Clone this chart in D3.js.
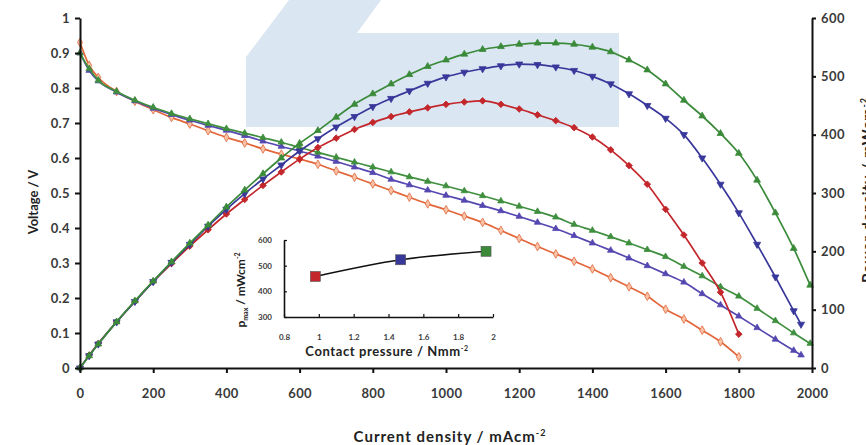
<!DOCTYPE html>
<html><head><meta charset="utf-8">
<script src="https://cdn.jsdelivr.net/npm/d3@7"></script>
<style>
html,body{margin:0;padding:0;background:#fff;}
svg{display:block;font-family:Lato,"Open Sans",sans-serif;}
</style></head>
<body><svg id="c" width="866" height="445"></svg>
<script>
// ---- data ----
const currentRed   = [0,25,50,100,150,200,250,300,350,400,450,500,550,600,650,700,750,800,850,900,950,1000,1050,1100,1150,1200,1250,1300,1350,1400,1450,1500,1550,1600,1650,1700,1750,1800];
const currentBlue  = [0,25,50,100,150,200,250,300,350,400,450,500,550,600,650,700,750,800,850,900,950,1000,1050,1100,1150,1200,1250,1300,1350,1400,1450,1500,1550,1600,1650,1700,1750,1800,1850,1900,1950,1970];
const currentGreen = [0,25,50,100,150,200,250,300,350,400,450,500,550,600,650,700,750,800,850,900,950,1000,1050,1100,1150,1200,1250,1300,1350,1400,1450,1500,1550,1600,1650,1700,1750,1800,1850,1900,1950,1995];

const voltageRed   = [0.93,0.865,0.83,0.79,0.762,0.738,0.716,0.697,0.678,0.659,0.643,0.626,0.611,0.597,0.582,0.563,0.545,0.526,0.507,0.488,0.469,0.452,0.434,0.416,0.393,0.37,0.347,0.326,0.305,0.283,0.258,0.232,0.205,0.168,0.14,0.108,0.075,0.032];
const voltageBlue  = [0.90,0.85,0.82,0.788,0.763,0.742,0.724,0.708,0.693,0.679,0.664,0.648,0.633,0.620,0.605,0.59,0.574,0.558,0.539,0.523,0.508,0.493,0.479,0.464,0.449,0.433,0.416,0.398,0.378,0.357,0.336,0.314,0.292,0.269,0.245,0.212,0.18,0.148,0.115,0.082,0.05,0.037];
const voltageGreen = [0.90,0.855,0.822,0.79,0.765,0.745,0.727,0.712,0.698,0.684,0.671,0.658,0.645,0.63,0.616,0.602,0.588,0.574,0.56,0.546,0.533,0.52,0.506,0.492,0.477,0.462,0.447,0.431,0.41,0.393,0.375,0.357,0.338,0.318,0.29,0.263,0.232,0.205,0.17,0.135,0.10,0.07];

const powerRed   = [0,22,42,79,114,148,179,209,237,264,289,313,336,358,378,394,409,421,431,439,446,452,456,458,452,444,434,424,412,396,374,347,315,272,228,180,130,58];
const powerBlue  = [0,21,41,79,114,148,181,212,243,272,299,324,348,372,393,413,431,448,462,475,488,499,507,513,518,521,520,516,510,500,487,470,450,428,400,360,315,266,212,156,98,75];
const powerGreen = [0,21,41,79,115,149,182,214,245,276,305,333,360,385,407,430,452,470,487,503,517,528,538,546,551,555,557,557,555,550,542,528,511,487,459,432,402,368,322,266,205,142];

// inset: peak power vs contact pressure
const insetPressure = [0.98,1.47,1.96];
const insetPmax     = [458,523,556];

const xTicks  = [0,200,400,600,800,1000,1200,1400,1600,1800,2000];
const yTicks  = [0,0.1,0.2,0.3,0.4,0.5,0.6,0.7,0.8,0.9,1];
const y2Ticks = [0,100,200,300,400,500,600];
const insetXTicks = [0.8,1,1.2,1.4,1.6,1.8,2];
const insetYTicks = [300,400,500,600];

// ---- styles ----
const C = {
  orange:"#e2663a", orangeFill:"#f7c2a6",
  blueV:"#5548b0", greenV:"#3f8f3f",
  red:"#c3262b", blueP:"#38379a", greenP:"#3a8a3a",
  wm:"#dae6f2"
};

const svg = d3.select("#c");
const L=80, R=812, T=18, B=368;
const x  = d3.scaleLinear().domain([0,2000]).range([L,R]);
const y  = d3.scaleLinear().domain([0,1]).range([B,T]);
const y2 = d3.scaleLinear().domain([0,600]).range([B,T]);

// watermark shape (decoration)
svg.append("path").attr("d","M246,57 L289,0 L381,0 L357,33 L619,33 L619,127 L246,127 Z").attr("fill",C.wm);

function series(xs, ys, ysc, color, fill, sym, size, rot){
  const pts = xs.map((d,i)=>[d, ys[i]]);
  const g = svg.append("g");
  g.append("path").datum(pts)
    .attr("fill","none").attr("stroke",color).attr("stroke-width",1.7)
    .attr("d", d3.line().x(d=>x(d[0])).y(d=>ysc(d[1])).curve(d3.curveMonotoneX));
  g.selectAll("path.m").data(pts).join("path").attr("class","m")
    .attr("transform",d=>`translate(${x(d[0])},${ysc(d[1])}) rotate(${rot||0})`)
    .attr("d", d3.symbol().type(sym).size(size))
    .attr("fill",fill).attr("stroke",color).attr("stroke-width",0.8);
}

// voltage curves
series(currentRed,   voltageRed,   y, C.orange, C.orangeFill, d3.symbolDiamond, 22);
series(currentBlue,  voltageBlue,  y, C.blueV,  C.blueV,  d3.symbolTriangle, 18);
series(currentGreen, voltageGreen, y, C.greenV, C.greenV, d3.symbolTriangle, 18);
// power curves
series(currentRed,   powerRed,   y2, C.red,    C.red,    d3.symbolSquare, 22, 45);
series(currentBlue,  powerBlue,  y2, C.blueP,  C.blueP,  d3.symbolTriangle, 22, 180);
series(currentGreen, powerGreen, y2, C.greenP, C.greenP, d3.symbolTriangle, 20);

// axes
function styleAxis(g){
  g.select(".domain").attr("stroke","#111").attr("stroke-width",2);
  g.selectAll(".tick line").attr("stroke","#111").attr("stroke-width",2);
  g.selectAll("text").attr("fill","#3a3a3a").style("font","bold 13px Lato").style("letter-spacing","0.4px");
}
svg.append("g").attr("transform",`translate(0,${B})`)
  .call(d3.axisBottom(x).tickValues(xTicks).tickFormat(d3.format("d")).tickSize(5).tickSizeOuter(0).tickPadding(16))
  .call(styleAxis);
svg.append("g").attr("transform",`translate(${L},0)`)
  .call(d3.axisLeft(y).tickValues(yTicks).tickFormat(d=>d===0?"0":d===1?"1":d3.format(".1f")(d)).tickSize(5).tickSizeOuter(0).tickPadding(5))
  .call(styleAxis);
svg.append("g").attr("transform",`translate(${R},0)`)
  .call(d3.axisRight(y2).tickValues(y2Ticks).tickFormat(d3.format("d")).tickSize(4).tickSizeOuter(0).tickPadding(5))
  .call(styleAxis);

// titles
svg.append("text").attr("x",450).attr("y",442).attr("text-anchor","middle")
  .style("font","bold 15px Lato").style("letter-spacing","1px").attr("fill","#222")
  .html('Current density / mAcm<tspan dy="-6" font-size="9">-2</tspan>');
svg.append("text").attr("transform","translate(38,202) rotate(-90)").attr("text-anchor","middle")
  .style("font","bold 13px Lato").attr("fill","#222").text("Voltage / V");
svg.append("text").attr("transform","translate(873,190) rotate(-90)").attr("text-anchor","middle")
  .style("font","bold 15px Lato").style("letter-spacing","1px").attr("fill","#222")
  .html('Power density / mWcm<tspan dy="-6" font-size="9">-2</tspan>');

// inset
const ix = d3.scaleLinear().domain([0.8,2]).range([284,493]);
const iy = d3.scaleLinear().domain([300,600]).range([317,240]);
const ig = svg.append("g");
function styleInset(g){
  g.select(".domain").attr("stroke","#111").attr("stroke-width",1.6);
  g.selectAll(".tick line").attr("stroke","#111").attr("stroke-width",1.2);
  g.selectAll("text").attr("fill","#3a3a3a").style("font","bold 8px Lato");
}
ig.append("g").attr("transform","translate(0,317)")
  .call(d3.axisBottom(ix).tickValues(insetXTicks).tickFormat(d=>d3.format("")(d)).tickSize(-3).tickSizeOuter(0).tickPadding(17))
  .call(styleInset);
ig.append("g").attr("transform","translate(284,0)")
  .call(d3.axisLeft(iy).tickValues(insetYTicks).tickSize(-3).tickSizeOuter(0).tickPadding(12))
  .call(styleInset);
ig.append("path").datum(insetPressure.map((d,i)=>[d,insetPmax[i]]))
  .attr("fill","none").attr("stroke","#111").attr("stroke-width",1.6)
  .attr("d",d3.line().x(d=>ix(d[0])).y(d=>iy(d[1])).curve(d3.curveMonotoneX));
const iCols=[C.red,C.blueP,C.greenP];
ig.selectAll("rect.p").data(insetPressure).join("rect").attr("class","p")
  .attr("x",(d)=>ix(d)-5).attr("y",(d,i)=>iy(insetPmax[i])-5).attr("width",10).attr("height",10)
  .attr("fill",(d,i)=>iCols[i]).attr("stroke","#555").attr("stroke-width",0.6);
ig.append("text").attr("x",387).attr("y",356).attr("text-anchor","middle")
  .style("font","bold 13px Lato").style("letter-spacing","0.6px").attr("fill","#222")
  .html('Contact pressure / Nmm<tspan dy="-5" font-size="7">-2</tspan>');
ig.append("text").attr("transform","translate(245,290) rotate(-90)").attr("text-anchor","middle")
  .style("font","bold 12px Lato").attr("fill","#222")
  .html('p<tspan dy="3" font-size="7">max</tspan><tspan dy="-3"> / mWcm</tspan><tspan dy="-5" font-size="7">-2</tspan>');
</script></body></html>
